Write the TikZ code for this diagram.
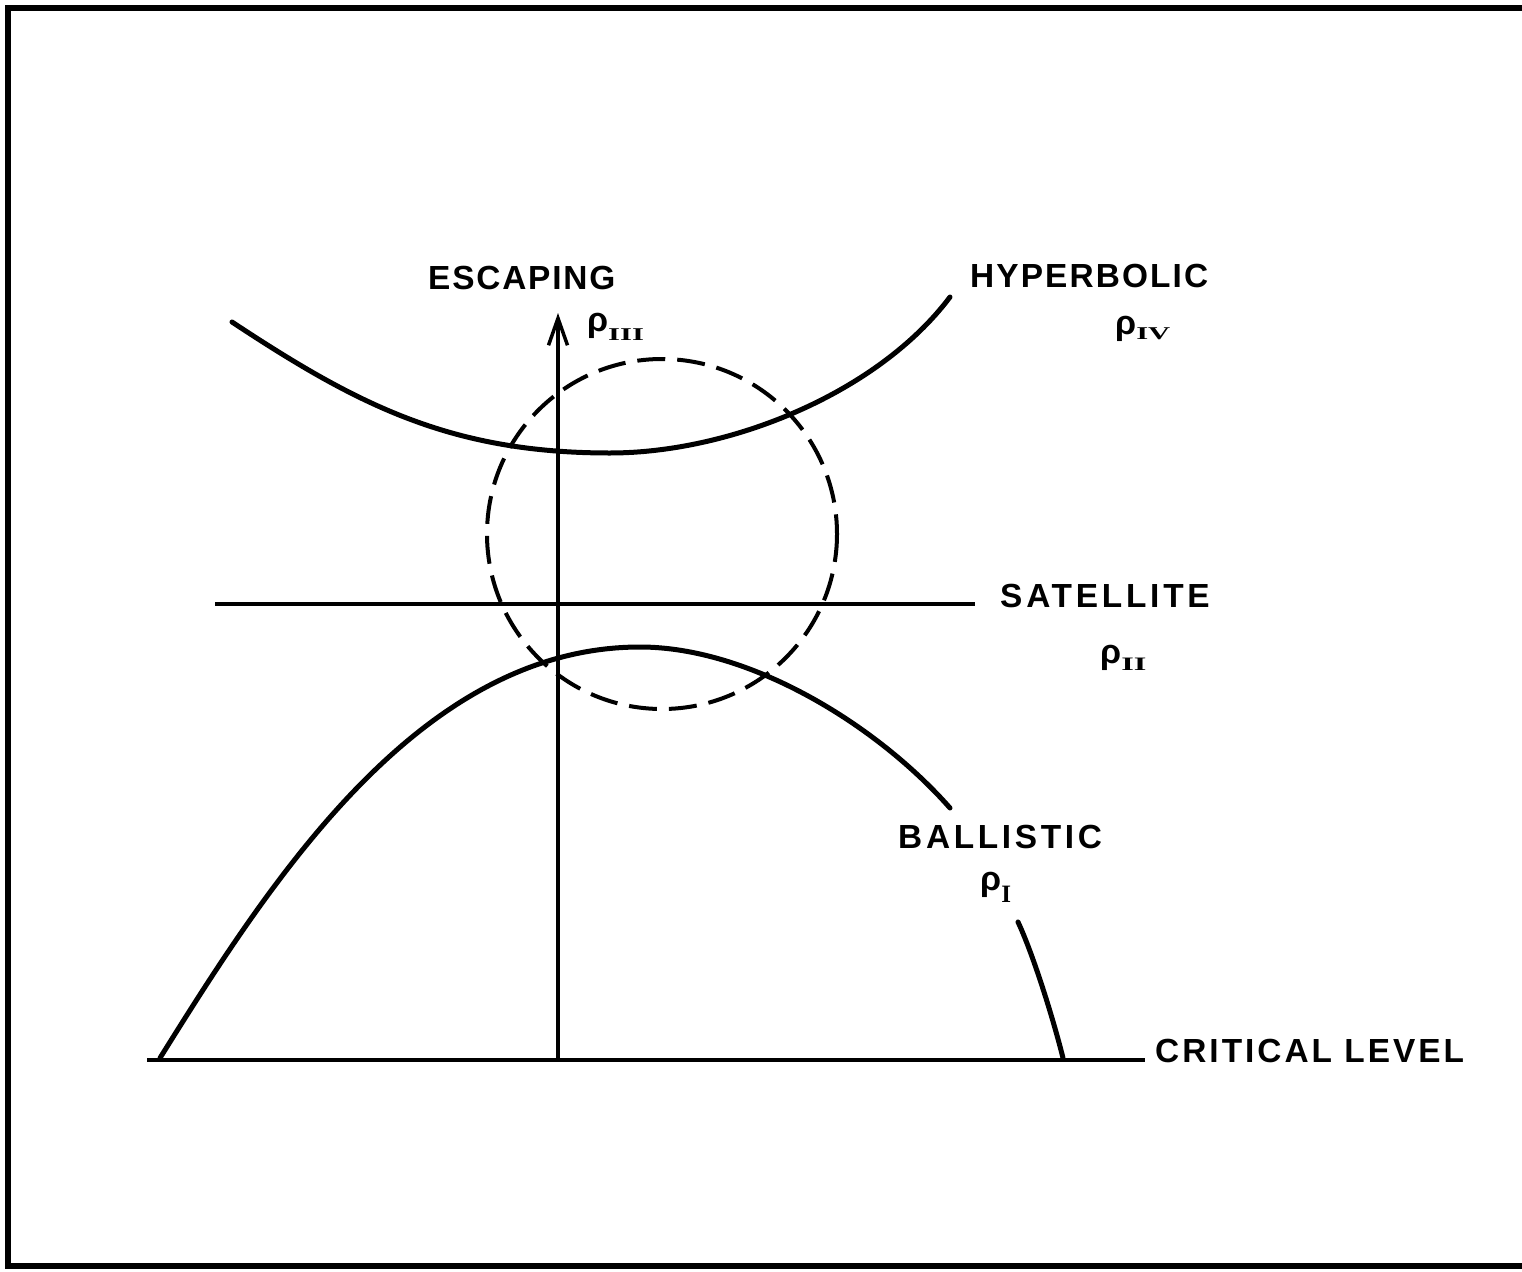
\documentclass[tikz,border=0pt]{standalone}
\usepackage{fontspec}
\setmainfont{Liberation Sans}
\newfontfamily\subfont{Liberation Serif}
\usetikzlibrary{arrows.meta}
\newcommand{\rhosub}[4]{{\fontsize{34}{36}\selectfont\bfseries ρ}\raisebox{-#2pt}{\subfont\bfseries\fontsize{#3}{#3}\selectfont\scalebox{#4}[1]{#1}}}
\begin{document}
\begin{tikzpicture}[x=1pt,y=-1pt,
  lbl/.style={anchor=base west, inner sep=0pt, font=\fontsize{33.4}{36}\selectfont\bfseries},
  rholbl/.style={anchor=base west, inner sep=0pt},
  curve/.style={line width=5pt, line cap=round, line join=round},
  straight/.style={line width=4pt},
  frameline/.style={line width=6pt},
  dashcircle/.style={line width=4pt, dash pattern=on 28pt off 12pt}]
\useasboundingbox (0,0) rectangle (1522,1271);
% frame
\coordinate (ftr) at (1522,8);
\coordinate (ftl) at (8,8);
\coordinate (fbl) at (8,1266);
\coordinate (fbr) at (1522,1266);
\draw[frameline] (ftr) -- (ftl) -- (fbl) -- (fbr);
% labels
\node[lbl] (esc) at (428,289) {\addfontfeature{LetterSpace=5.4}ESCAPING};
\node[lbl] (hyp) at (970,287) {\addfontfeature{LetterSpace=6.3}HYPERBOLIC};
\node[lbl] (sat) at (1000,607) {\addfontfeature{LetterSpace=11.3}SATELLITE};
\node[lbl] (bal) at (898,848) {\addfontfeature{LetterSpace=11}BALLISTIC};
\node[lbl] (crit) at (1155,1062) {\addfontfeature{LetterSpace=9}CRITICAL LEVEL};
\node[rholbl] (r3) at (587,331) {\rhosub{III}{9}{18}{1.7}};
\node[rholbl] (r4) at (1115,334) {\rhosub{IV}{5}{18}{1.7}};
\node[rholbl] (r2) at (1100,663) {\rhosub{II}{7}{19}{1.7}};
\node[rholbl] (r1) at (980,890) {\rhosub{I}{12}{25}{1}};
% axis and level lines
\coordinate (axb) at (558,1060);
\coordinate (axt) at (558,313);
\draw[line width=3.5pt, -{Straight Barb[length=27pt,width=19pt,line width=3.5pt]}] (axb) -- (axt);
\coordinate (satl) at (215,604);
\coordinate (satr) at (975,604);
\draw[straight] (satl) -- (satr);
\coordinate (critl) at (147,1060);
\coordinate (critr) at (1145,1060);
\draw[straight] (critl) -- (critr);
% hyperbolic curve
\coordinate (h0) at (232,322);
\coordinate (hm) at (610,453);
\coordinate (h1) at (950,297);
\draw[curve] (h0) .. controls (357,404.5) and (450,453) .. (hm)
             .. controls (730,453) and (878,393) .. (h1);
% ballistic curve
\coordinate (b0) at (160,1058);
\coordinate (bm) at (640,647);
\coordinate (b1) at (950,808);
\draw[curve] (b0) .. controls (271,880) and (420,647) .. (bm)
             .. controls (750,647) and (877,725) .. (b1);
\coordinate (b2) at (1018,922);
\coordinate (b3) at (1063,1058);
\draw[curve] (b2) .. controls (1033,954) and (1053,1018) .. (b3);
% dashed circle
\coordinate (cc) at (662,534);
\draw[dashcircle] (cc) circle[radius=175];
\end{tikzpicture}
\end{document}
